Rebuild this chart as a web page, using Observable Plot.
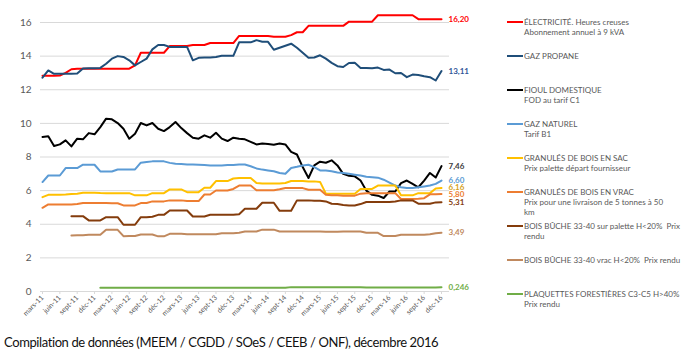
<!DOCTYPE html>
<html><head><meta charset="utf-8">
<script src="https://cdn.jsdelivr.net/npm/d3@7"></script>
<script src="https://cdn.jsdelivr.net/npm/@observablehq/plot@0.6"></script>
<style>
body{margin:0;background:#fff;}
#wrap{position:relative;width:695px;height:362px;font-family:Lato, sans-serif;background:#fff;overflow:hidden}
#chart svg{display:block}
.leg{position:absolute;left:524px;font-size:8px;color:#595959;line-height:10px;white-space:pre;font-family:Lato, sans-serif}
.sw{position:absolute;left:507px;width:16px;height:2px}
#cap{position:absolute;left:4px;top:334px;font-size:13px;letter-spacing:-0.4px;color:#111;font-family:Lato, sans-serif;white-space:nowrap}
</style>
</head><body>
<div id="wrap"><div id="chart"></div><div id="legend"></div><div id="cap">Compilation de données (MEEM / CGDD / SOeS / CEEB / ONF), décembre 2016</div></div>
<script>
const tickLabels = ["mars-11","juin-11","sept-11","déc-11","mars-12","juin-12","sept-12","déc-12","mars-13","juin-13","sept-13","déc-13","mars-14","juin-14","sept-14","déc-14","mars-15","juin-15","sept-15","déc-15","mars-16","juin-16","sept-16","déc-16"];
const yTicks = [0,2,4,6,8,10,12,14,16];

const names = ["ÉLECTRICITÉ","GAZ PROPANE","FIOUL DOMESTIQUE","GAZ NATUREL","GRANULÉS DE BOIS EN SAC","GRANULÉS DE BOIS EN VRAC","BOIS BÛCHE palette","BOIS BÛCHE vrac","PLAQUETTES FORESTIÈRES"];
const legendTexts = [
 "ÉLECTRICITÉ. Heures creuses\nAbonnement annuel à 9 kVA",
 "GAZ PROPANE",
 "FIOUL DOMESTIQUE\nFOD au tarif C1",
 "GAZ NATUREL\nTarif B1",
 "GRANULÉS DE BOIS EN SAC\nPrix palette départ fournisseur",
 "GRANULÉS DE BOIS EN VRAC\nPrix pour une livraison de 5 tonnes à 50\nkm",
 "BOIS BÛCHE 33-40 sur palette H<20%  Prix\nrendu",
 "BOIS BÛCHE 33-40 vrac H<20%  Prix rendu",
 "PLAQUETTES FORESTIÈRES C3-C5 H>40%\nPrix rendu"
];
const colors = ["#FF0000","#1F4E79","#000000","#5B9BD5","#FFC000","#ED7D31","#843C0C","#C0895E","#70AD47"];
const labelColors = ["#FF0000","#2F5597","#404040","#5B9BD5","#D4A020","#ED7D31","#843C0C","#C0895E","#70AD47"];
const endLabels = ["16,20","13,11","7,46","6,60","6,16","5,80","5,31","3,49","0,246"];

const electricite = [12.83,12.83,12.83,12.85,13.0,13.22,13.25,13.25,13.25,13.25,13.25,13.25,13.25,13.25,13.25,13.25,13.45,14.2,14.2,14.2,14.2,14.2,14.6,14.6,14.6,14.6,14.66,14.66,14.66,14.78,14.78,14.78,14.78,14.78,15.2,15.2,15.2,15.2,15.2,15.2,15.15,15.15,15.15,15.25,15.42,15.42,15.8,15.8,15.8,15.8,15.8,15.8,15.8,16.05,16.05,16.05,16.05,16.05,16.43,16.43,16.43,16.43,16.43,16.43,16.43,16.2,16.2,16.2,16.2,16.2];
const gazPropane = [12.72,13.15,12.95,12.95,12.95,12.95,12.97,13.26,13.28,13.28,13.3,13.55,13.85,14.0,13.95,13.75,13.45,13.65,13.85,14.4,14.66,14.66,14.55,14.55,14.55,14.55,13.75,13.9,13.92,13.92,13.95,14.02,14.02,14.02,14.82,14.82,14.82,14.95,14.85,14.85,14.38,14.5,14.62,14.74,14.5,14.2,13.9,13.92,14.05,13.85,13.6,13.4,13.35,13.59,13.6,13.3,13.3,13.28,13.32,13.18,13.2,12.98,13.0,12.75,12.9,12.88,12.8,12.75,12.55,13.11];
const fioul = [9.19,9.23,8.65,8.75,8.99,8.63,9.09,9.05,9.42,9.35,9.78,10.28,10.24,10.02,9.68,9.09,9.38,10.02,9.88,10.02,9.68,9.54,9.78,10.08,9.72,9.42,9.15,9.09,9.29,9.15,9.44,9.09,8.95,9.15,9.09,9.05,8.9,8.75,8.8,8.78,8.73,8.8,8.75,8.3,8.15,7.4,6.75,7.5,7.72,7.66,7.8,7.5,7.0,6.88,6.85,6.6,6.0,5.75,5.7,5.56,5.95,5.95,6.45,6.6,6.4,6.2,6.6,7.05,6.78,7.46];
const gazNaturel = [6.51,6.9,6.9,6.9,7.34,7.34,7.34,7.54,7.54,7.54,7.14,7.14,7.14,7.26,7.26,7.26,7.26,7.66,7.7,7.74,7.75,7.74,7.65,7.6,7.58,7.56,7.55,7.54,7.52,7.5,7.5,7.5,7.52,7.53,7.56,7.55,7.45,7.32,7.25,7.2,7.15,7.05,7.0,7.35,7.42,7.5,7.54,7.4,7.2,7.2,7.15,7.08,7.05,7.0,6.95,6.9,6.82,6.8,6.77,6.65,6.48,6.3,6.2,6.15,6.15,6.2,6.25,6.3,6.4,6.6];
const granulesSac = [5.61,5.75,5.75,5.75,5.77,5.8,5.82,5.87,5.88,5.88,5.86,5.85,5.85,5.85,5.85,5.85,5.72,5.72,5.72,5.85,5.85,5.85,6.07,6.07,6.07,5.91,5.91,5.91,6.17,6.17,6.57,6.57,6.57,6.72,6.75,6.75,6.75,6.45,6.42,6.42,6.42,6.42,6.45,6.57,6.57,6.57,6.55,6.55,6.52,5.82,5.82,5.82,5.82,5.82,5.82,6.1,6.1,6.1,6.3,6.3,6.3,6.3,5.72,5.72,5.72,5.85,5.85,5.85,6.13,6.16];
const granulesVrac = [4.98,5.18,5.18,5.18,5.18,5.18,5.2,5.26,5.26,5.26,5.26,5.26,5.25,5.25,5.12,5.12,5.12,5.26,5.26,5.36,5.36,5.36,5.42,5.42,5.42,5.38,5.38,5.38,5.77,5.77,6.01,6.01,6.01,6.1,6.3,6.3,6.3,6.02,6.02,6.02,6.02,6.08,6.15,6.15,6.15,6.15,6.05,6.05,6.05,5.75,5.72,5.72,5.7,5.7,5.7,5.82,5.85,5.85,5.85,5.85,5.85,5.85,5.5,5.5,5.5,5.52,5.55,5.78,5.78,5.8];
const boisPalette = [null,null,null,null,null,4.48,4.48,4.48,4.23,4.23,4.23,4.42,4.42,4.42,3.97,3.97,3.97,4.42,4.42,4.45,4.56,4.56,4.82,4.82,4.82,4.82,4.46,4.46,4.46,4.56,4.56,4.56,4.56,4.56,4.6,4.92,4.92,4.92,5.28,5.28,5.28,4.8,4.8,4.8,5.42,5.42,5.42,5.4,5.4,5.36,5.22,5.2,5.15,5.12,5.12,5.2,5.32,5.32,5.32,5.32,5.32,5.35,5.42,5.42,5.42,5.22,5.22,5.22,5.3,5.31];
const boisVrac = [null,null,null,null,null,3.33,3.35,3.35,3.37,3.37,3.37,3.67,3.67,3.67,3.29,3.3,3.3,3.39,3.39,3.39,3.28,3.28,3.43,3.43,3.43,3.4,3.4,3.4,3.4,3.4,3.4,3.47,3.47,3.47,3.5,3.57,3.57,3.57,3.68,3.68,3.68,3.57,3.57,3.57,3.57,3.57,3.57,3.57,3.57,3.55,3.55,3.55,3.57,3.57,3.57,3.57,3.5,3.49,3.49,3.3,3.3,3.3,3.37,3.37,3.37,3.37,3.37,3.4,3.47,3.49];
const plaquettes = [null,null,null,null,null,null,null,null,null,null,0.22,0.22,0.22,0.22,0.22,0.22,0.22,0.22,0.22,0.22,0.22,0.22,0.22,0.22,0.22,0.22,0.22,0.22,0.22,0.22,0.22,0.22,0.22,0.22,0.22,0.22,0.22,0.22,0.22,0.22,0.22,0.22,0.22,0.26,0.26,0.26,0.26,0.26,0.26,0.26,0.26,0.26,0.26,0.26,0.26,0.26,0.245,0.245,0.245,0.245,0.245,0.245,0.245,0.245,0.245,0.245,0.245,0.245,0.245,0.246];

const allSeries = [electricite,gazPropane,fioul,gazNaturel,granulesSac,granulesVrac,boisPalette,boisVrac,plaquettes];

const rows = [];
allSeries.forEach((vals, k) => vals.forEach((v, i) => { if (v != null) rows.push({serie: names[k], i, v}); }));
const ends = allSeries.map((vals, k) => ({i: vals.length - 1, v: vals[vals.length - 1], label: endLabels[k], color: labelColors[k]}));
const xTicks = tickLabels.map((_, k) => k * 3);

const plot = Plot.plot({
  width: 695, height: 328,
  marginLeft: 40, marginRight: 246, marginTop: 10, marginBottom: 37,
  style: {fontFamily: "Lato, sans-serif", background: "white", overflow: "visible"},
  x: {domain: [0, 69], range: [42, 441]},
  y: {domain: [0, 16], range: [291, 22]},
  color: {domain: names, range: colors},
  marks: [
    Plot.gridY(yTicks, {stroke: "#D9D9D9", strokeOpacity: 1, strokeWidth: 1}),
    Plot.axisY(yTicks, {tickSize: 0, tickPadding: 9, fontSize: 10, fill: "#595959", label: null}),
    Plot.axisX(xTicks, {tickSize: 3, stroke: "#D9D9D9", tickRotate: -45, fontSize: 7, fill: "#595959", tickPadding: 2, tickFormat: i => tickLabels[i / 3], label: null}),
    Plot.line(rows, {x: "i", y: "v", z: "serie", stroke: "serie", strokeWidth: 2}),
    ...ends.map(d => Plot.text([d], {x: "i", y: "v", text: "label", fill: d.color, dx: 7, textAnchor: "start", fontWeight: "bold", fontSize: 8}))
  ]
});
document.getElementById("chart").appendChild(plot);

const leg = document.getElementById("legend");
legendTexts.forEach((t, k) => {
  const yc = 22 + k * 34;
  const sw = document.createElement("div");
  sw.className = "sw"; sw.style.top = (yc - 1) + "px"; sw.style.background = colors[k];
  leg.appendChild(sw);
  const tx = document.createElement("div");
  tx.className = "leg"; tx.style.top = (yc - 5) + "px"; tx.textContent = t;
  leg.appendChild(tx);
});
</script>
</body></html>
